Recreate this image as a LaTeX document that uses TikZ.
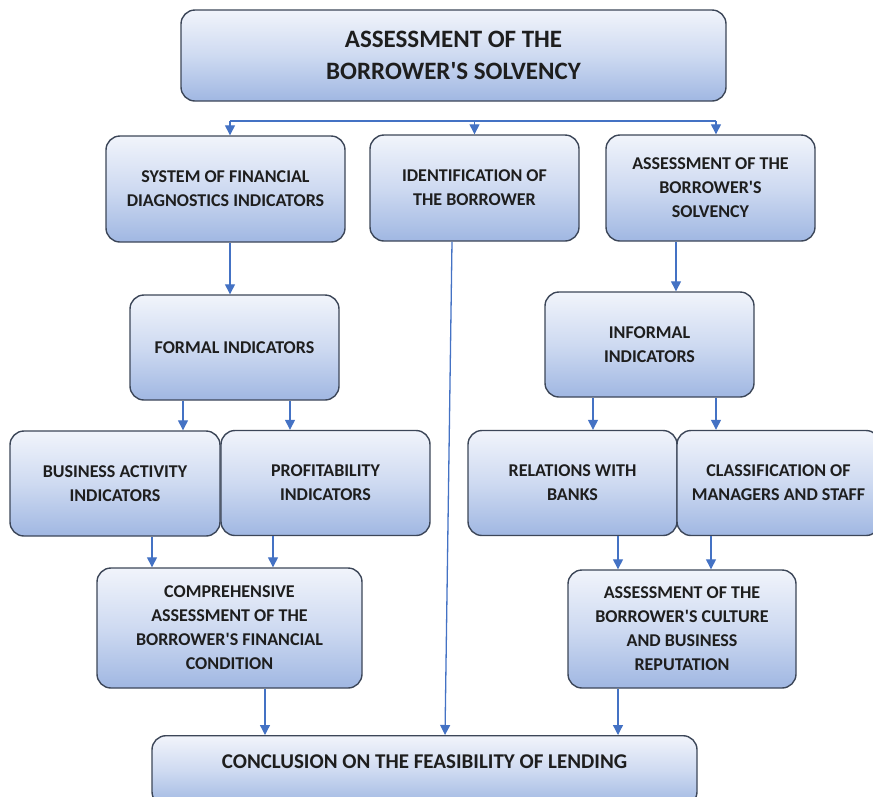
\documentclass[tikz,border=0pt]{standalone}
\usepackage{fontspec}
\setmainfont{Carlito}
\newfontfamily\blockfont{Carlito}
\usetikzlibrary{positioning,arrows.meta,calc}
\definecolor{bxline}{RGB}{60,70,88}
\definecolor{bxtop}{RGB}{241,244,251}
\definecolor{bxmid}{RGB}{206,218,241}
\definecolor{bxbot}{RGB}{160,183,226}
\definecolor{bxtext}{RGB}{30,30,30}
\definecolor{arblue}{RGB}{68,114,196}
\tikzset{
  block/.style={draw=bxline, line width=1.4pt, rounded corners=14pt,
                top color=bxtop, bottom color=bxbot, middle color=bxmid,
                text=bxtext, font=\blockfont\bfseries\fontsize{18}{24}\selectfont,
                align=center, inner sep=0pt},
  headline/.style={font=\blockfont\bfseries\fontsize{25}{32}\selectfont},
  flow/.style={-{Triangle[length=10pt,width=10pt]}, draw=arblue, line width=1.3pt},
  rail/.style={draw=arblue, line width=1.3pt},
}

\begin{document}
\begin{tikzpicture}[x=1pt, y=-1pt]
% page frame, 873 x 796 px; the bottom box and the right box run off it
\clip (0,0) rectangle (873,796);

% title
\node[block, headline, minimum width=545pt, minimum height=91pt] (head) at (453.5,55.5)
  {ASSESSMENT OF THE\\BORROWER'S SOLVENCY};

% first row
\node[block, minimum width=239pt, minimum height=106pt] (sfd) at (225.5,189)
  {SYSTEM OF FINANCIAL\\DIAGNOSTICS INDICATORS};
\node[block, minimum width=209pt, minimum height=106pt] (ident) at (474.5,188)
  {IDENTIFICATION OF\\THE BORROWER};
\node[block, minimum width=209pt, minimum height=106pt] (solv) at (710.5,188)
  {ASSESSMENT OF THE\\BORROWER'S\\SOLVENCY};

% second row
\node[block, minimum width=209pt, minimum height=105pt] (formal) at (234.5,347.5)
  {FORMAL INDICATORS};
\node[block, minimum width=209pt, minimum height=105pt] (informal) at (649.5,344.5)
  {INFORMAL\\INDICATORS};

% third row
\node[block, minimum width=210pt, minimum height=105pt] (busact) at (115,483.5)
  {BUSINESS ACTIVITY\\INDICATORS};
\node[block, minimum width=209pt, minimum height=105pt] (profit) at (325.5,483)
  {PROFITABILITY\\INDICATORS};
\node[block, minimum width=209pt, minimum height=105pt] (banks) at (572.5,483)
  {RELATIONS WITH\\BANKS};
\node[block, minimum width=203pt, minimum height=105pt] (staff) at (778.5,483)
  {CLASSIFICATION OF\\MANAGERS AND STAFF};

% fourth row
\node[block, minimum width=265pt, minimum height=120pt] (compr) at (229.5,628)
  {COMPREHENSIVE\\ASSESSMENT OF THE\\BORROWER'S FINANCIAL\\CONDITION};
\node[block, minimum width=228pt, minimum height=118pt] (culture) at (682,629)
  {ASSESSMENT OF THE\\BORROWER'S CULTURE\\AND BUSINESS\\REPUTATION};

% conclusion, text kept high in a box that runs past the page
\node[block, font=\blockfont\bfseries\fontsize{21}{24}\selectfont, text height=14pt, text depth=18pt,
      minimum width=545pt, minimum height=70pt, anchor=north] (concl) at (424.5,735)
  {CONCLUSION ON THE FEASIBILITY OF LENDING};

% split under the title
\coordinate (railL) at (230,121);
\coordinate (railR) at (716,121);
\draw[rail] (railL) -- (railR);
\draw[flow] (railL) -- (sfd.north -| railL);
\draw[flow] (ident.north |- railL) -- (ident.north);
\draw[flow] (railR) -- (solv.north -| railR);

% left branch
\draw[flow] ([xshift=4.5pt]sfd.south) -- ([xshift=-4.5pt]formal.north);
\draw[flow] ([xshift=-51.5pt]formal.south) -- ([xshift=68pt]busact.north);
\draw[flow] ([xshift=55.5pt]formal.south) -- ([xshift=-35.5pt]profit.north);
\draw[flow] ([xshift=37pt]busact.south) -- ([xshift=-77.5pt]compr.north);
\draw[flow] ([xshift=-52.5pt]profit.south) -- ([xshift=43.5pt]compr.north);

% right branch
\draw[flow] ([xshift=-34.5pt]solv.south) -- ([xshift=26.5pt]informal.north);
\draw[flow] ([xshift=-56.5pt]informal.south) -- ([xshift=20.5pt]banks.north);
\draw[flow] ([xshift=66.5pt]informal.south) -- ([xshift=-62.5pt]staff.north);
\draw[flow] ([xshift=45.5pt]banks.south) -- ([xshift=-64pt]culture.north);
\draw[flow] ([xshift=-67.5pt]staff.south) -- ([xshift=29pt]culture.north);

% into the conclusion
\draw[flow] ([xshift=35.5pt]compr.south) -- ([xshift=-159.5pt]concl.north);
\draw[flow] ([xshift=-22.5pt]ident.south) -- ([xshift=20.5pt]concl.north);
\draw[flow] ([xshift=-64pt]culture.south) -- ([xshift=193.5pt]concl.north);
\end{tikzpicture}
\end{document}
